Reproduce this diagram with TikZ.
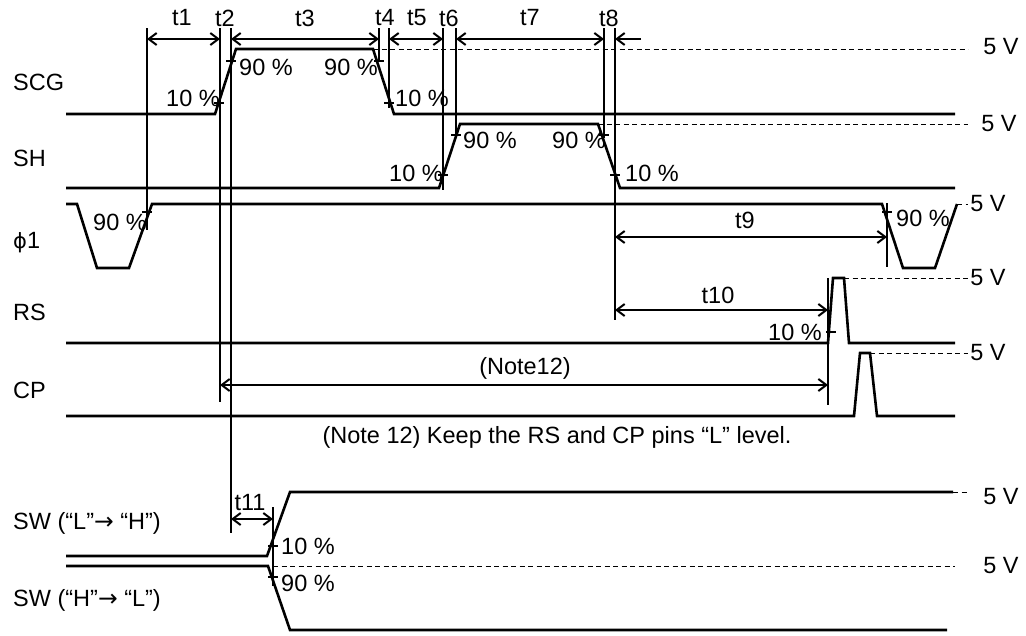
\documentclass[tikz,border=0pt]{standalone}
\usepackage{fontspec}
\setmainfont{Liberation Sans}
\newfontfamily\dvfont{DejaVu Sans}
\usetikzlibrary{arrows.meta}

\begin{document}
\begin{tikzpicture}[x=1pt, y=-1pt,
    every node/.style={font=\fontsize{23.5}{28}\selectfont, inner sep=0pt},
    sig/.style={line width=2.6pt, line join=miter, line cap=butt},
    guide/.style={line width=1.2pt},
    lvl/.style={line width=1pt, dash pattern=on 5pt off 3.5pt},
    dim/.style={line width=2pt, {Straight Barb[length=8pt,width=12pt]}-{Straight Barb[length=8pt,width=12pt]}},
    tck/.style={line width=1.2pt}]
  \useasboundingbox (0,0) rectangle (1026,635);

  % names of the signals
  \node[anchor=west] (scg) at (13,82) {SCG};
  \node[anchor=west] (sh) at (13,158) {SH};
  \node[anchor=west] (phi) at (13,243) {{\dvfont\fontsize{21}{24}\selectfont ϕ}1};
  \node[anchor=west] (rs) at (13,312) {RS};
  \node[anchor=west] (cp) at (13,390) {CP};
  \node[anchor=west] (swlh) at (13,523) {SW (“L”{\dvfont →} “H”)};
  \node[anchor=west] (swhl) at (13,600) {SW (“H”{\dvfont →} “L”)};

  % 5 V levels
  \draw[lvl] (373,49) -- (968,49);
  \draw[lvl] (598,124) -- (968,124);
  \draw[lvl] (957,204) -- (968,204);
  \draw[lvl] (844,278) -- (968,278);
  \draw[lvl] (870,353) -- (968,353);
  \draw[lvl] (953,492) -- (967,492);
  \draw[lvl] (273,566) -- (955,566);
  \foreach \y/\x/\n in {47/1001/v1, 124/999/v2, 204/988/v3, 278/988/v4,
                        353/988/v5, 497/1001/v6, 566/1001/v7}
    \node (\n) at (\x,\y) {5 V};

  % waveforms
  \draw[sig] (66,114) -- (215,114) -- (236,49) -- (373,49) -- (394,114) -- (955,114);
  \draw[sig] (66,188) -- (439,188) -- (460,124) -- (598,124) -- (620,188) -- (955,188);
  \draw[sig] (66,204) -- (77,204) -- (97,268) -- (129,268) -- (152,204)
    -- (882,204) -- (903,268) -- (935,268) -- (957,204);
  \draw[sig] (66,343) -- (828,343) -- (833,278) -- (844,278) -- (849,343) -- (955,343);
  \draw[sig] (66,416) -- (854,416) -- (860,353) -- (870,353) -- (877,416) -- (955,416);
  \draw[sig] (66,556) -- (267,556) -- (290,492) -- (953,492);
  \draw[sig] (66,566) -- (268,566) -- (290,630) -- (947,630);

  % guide lines
  \foreach \x/\a/\b in {147/28/230, 220/28/402, 231/28/533, 379/28/62, 389/28/108,
                        443/28/190, 456/28/136, 604/28/138, 615/28/320,
                        887/203/267, 828/278/405, 273/507/586}
    \draw[guide] (\x,\a) -- (\x,\b);

  % 10 % and 90 % marks
  \foreach \x/\y in {219/103, 231/61, 379/61, 389/103, 443/175, 456/135,
                     604/135, 615/175, 147/212, 887/212, 831/332, 273/546, 273/577}
    \draw[tck] (\x-5,\y) -- (\x+5,\y);

  \node (p1) at (193,98) {10 \%};
  \node (p2) at (266,67) {90 \%};
  \node (p3) at (351,67) {90 \%};
  \node (p4) at (422,98) {10 \%};
  \node (p5) at (416,173) {10 \%};
  \node (p6) at (490,140) {90 \%};
  \node (p7) at (579,140) {90 \%};
  \node (p8) at (652,173) {10 \%};
  \node (p9) at (120,222) {90 \%};
  \node (p10) at (923,218) {90 \%};
  \node (p11) at (795,332) {10 \%};
  \node (p12) at (308,546) {10 \%};
  \node (p13) at (308,583) {90 \%};

  % timings
  \foreach \a/\b/\y in {147/220/39, 231/379/39, 389/443/39, 456/604/39,
                        615/887/237, 615/828/310, 220/828/385, 231/273/519}
    \draw[dim] (\a,\y) -- (\b,\y);
  \draw[line width=2pt, -{Straight Barb[length=8pt,width=12pt]}] (641,39) -- (615,39);
  \foreach \x/\t in {182/t1, 225/t2, 305/t3, 385/t4, 417/t5, 449/t6, 530/t7, 609/t8}
    \node (\t) at (\x,18) {\t};
  \node (t9) at (745,220) {t9};
  \node (t10) at (718,295) {t10};
  \node (t11) at (250,503) {t11};
  \node (n12) at (525,368) {(Note12)};

  \node (note) at (557,437) {(Note 12) Keep the RS and CP pins “L” level.};
\end{tikzpicture}
\end{document}
